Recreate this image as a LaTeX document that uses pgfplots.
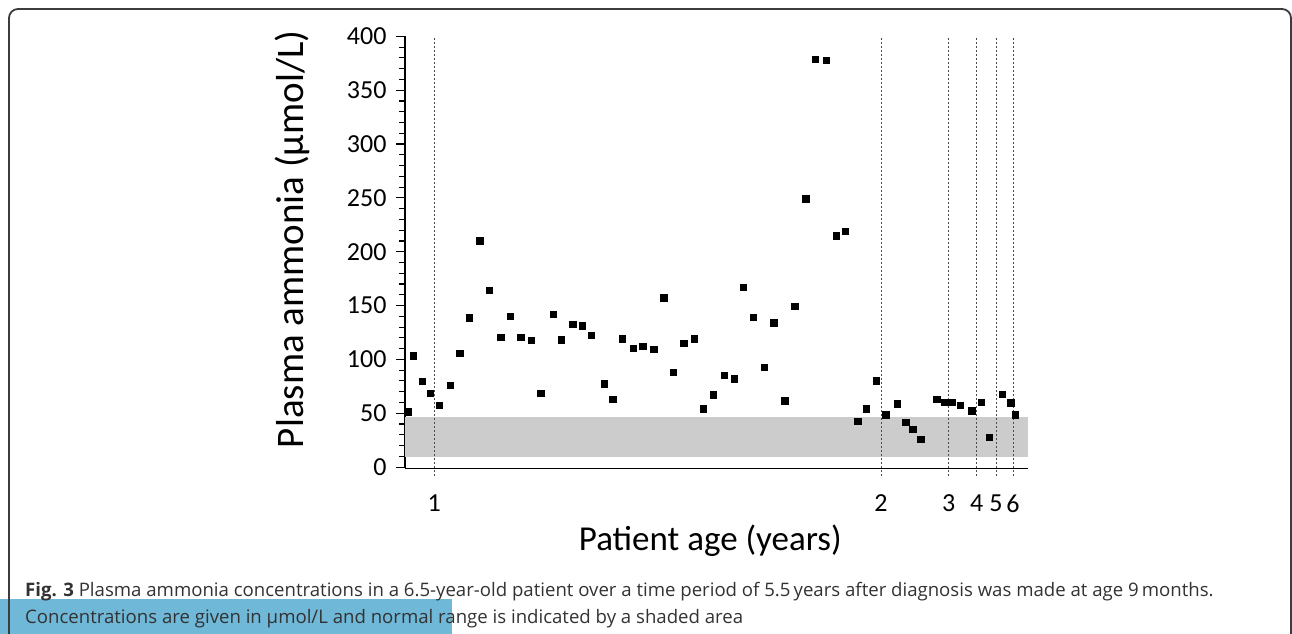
\documentclass[border=0pt]{standalone}
\usepackage{fontspec}
\setmainfont{Carlito}
\newfontfamily\capfont{Open Sans}
\usepackage{pgfplots}
\pgfplotsset{compat=1.18}
\definecolor{hl}{RGB}{112,184,216}
\definecolor{band}{RGB}{204,204,204}
\definecolor{captxt}{RGB}{50,50,50}
\definecolor{frame}{RGB}{60,60,60}

% x = position along the (non-linear) age axis, y = ammonia in umol/L
\pgfplotstableread{
x y
408.3 51.4
413.3 103.4
422.0 79.6
430.0 68.7
439.0 57.3
450.0 76.2
459.7 105.9
469.0 138.7
479.7 210.5
489.0 164.4
500.7 120.7
510.3 140.2
520.7 120.7
531.0 117.7
540.7 68.7
553.3 141.8
561.0 118.2
572.7 132.8
582.0 131.2
591.3 122.3
604.3 77.7
612.7 62.9
622.0 119.5
633.0 110.5
642.7 112.4
653.7 109.3
663.7 157.2
673.0 88.2
683.7 115.2
694.0 119.5
703.3 54.1
713.0 67.5
724.3 85.2
734.0 82.0
743.3 167.2
753.0 139.3
764.3 92.9
773.7 134.0
784.7 61.9
794.7 149.5
805.7 249.2
815.3 378.9
826.0 377.7
836.0 214.8
845.3 218.9
857.7 42.7
866.0 54.1
876.0 80.5
885.7 48.6
897.0 58.8
905.7 41.5
912.7 35.0
920.7 26.0
936.7 63.2
944.7 60.1
952.3 60.1
960.3 57.3
971.7 52.3
981.3 60.1
989.3 27.9
1002.3 67.8
1010.7 59.7
1015.0 48.6
}\ammonia

\begin{document}
\begin{tikzpicture}[x=1bp,y=1bp]
\useasboundingbox (0,0) rectangle (1292,634);
\fill[hl] (0,0) rectangle (452,35);
\draw[line width=1.8bp, frame, rounded corners=9bp] (9,-5) -- (9,625) -- (1291,625) -- (1291,-5);

\begin{axis}[
  at={(405,154)}, anchor=south west,
  scale only axis, width=623bp, height=431.8bp,
  xmin=405, xmax=1028, ymin=-1, ymax=400,
  clip=false,
  axis x line=bottom, axis y line=left,
  axis line style={-, line width=1.3bp, black},
  ytick={0,50,...,400}, minor y tick num=4,
  tick align=outside,
  major tick length=9bp, minor tick length=6bp,
  every tick/.style={black, line width=1.1bp},
  xtick={434.3,881,948.7,976.7,996,1013},
  xticklabels={1,2,3,4,5,6},
  x tick style={draw=none},
  /pgf/number format/assume math mode=true,
  ticklabel style={font=\fontsize{26bp}{30bp}\selectfont},
  yticklabel style={xshift=-6bp},
  xticklabel style={yshift=-14bp},
  xlabel={Patient age (years)},
  ylabel={Plasma ammonia (µmol/L)},
  x label style={at={(axis description cs:0.49,-0.167)}, anchor=center,
    font=\fontsize{35bp}{40bp}\selectfont},
  y label style={at={(axis description cs:-0.181,0.53)}, anchor=center,
    font=\fontsize{39bp}{44bp}\selectfont},
]
% normal range
\addplot[draw=none, fill=band] coordinates {(405,9.3) (1028,9.3) (1028,46.4) (405,46.4)} -- cycle;
% age markers
\foreach \v in {434.3,881,948.7,976.7,996,1013} {
  \edef\tmp{\noexpand\addplot[black!70, line width=0.9bp, dash pattern=on 2bp off 2bp]
    coordinates {(\v,-8.4) (\v,400.2)};}
  \tmp
}
\addplot[only marks, mark=square*, mark size=3.3bp, black] table[x=x,y=y] {\ammonia};
\end{axis}

\node[anchor=base west, inner sep=0, text=captxt, font=\capfont\fontsize{18.6bp}{22bp}\selectfont]
  at (25,37) {\textbf{Fig. 3} Plasma ammonia concentrations in a 6.5-year-old patient over a time period of 5.5\,years after diagnosis was made at age 9\,months.};
\node[anchor=base west, inner sep=0, text=captxt, font=\capfont\fontsize{18.6bp}{22bp}\selectfont]
  at (25,10) {Concentrations are given in µmol/L and normal range is indicated by a shaded area};
\end{tikzpicture}
\end{document}
